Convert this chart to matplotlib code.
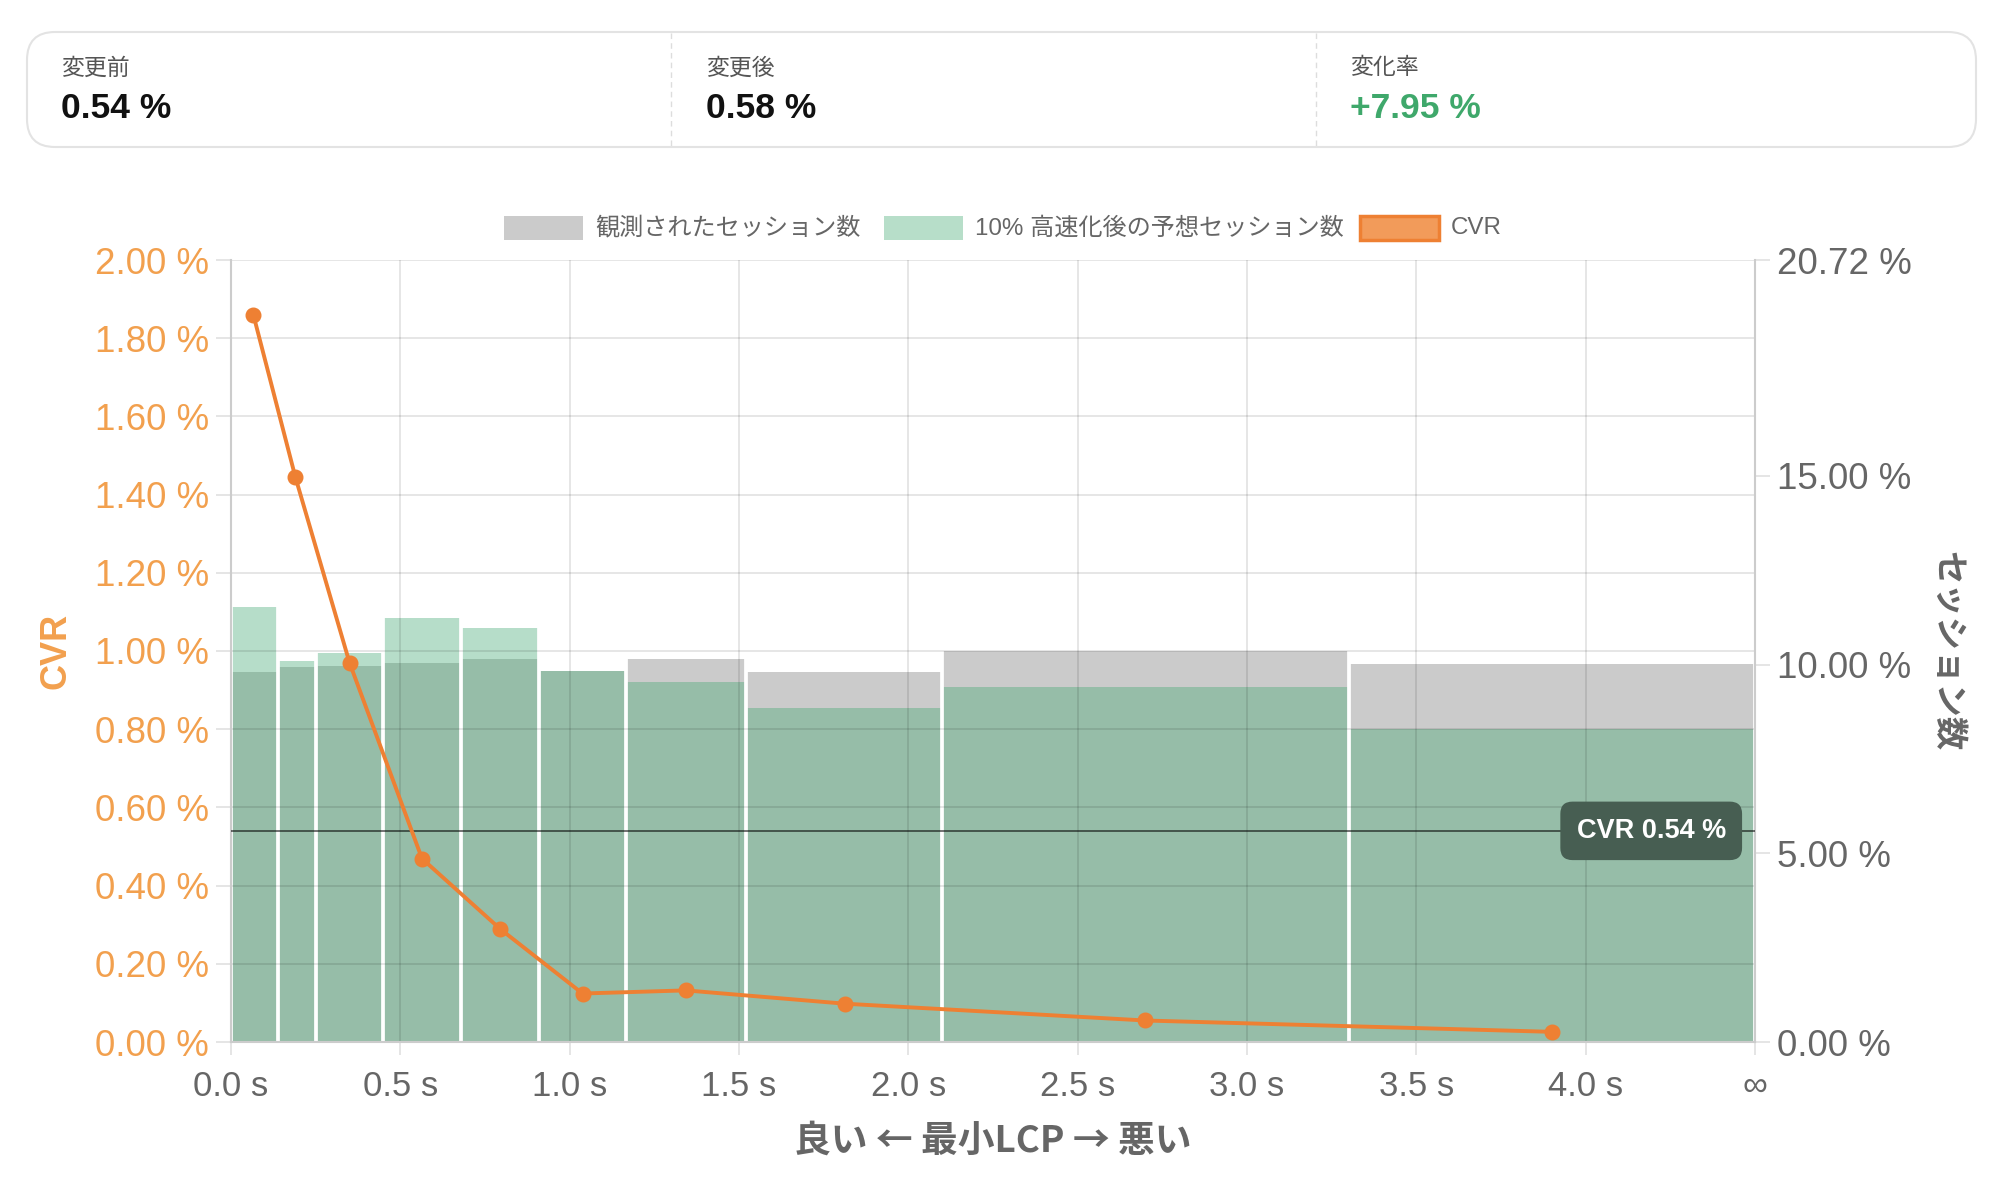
import numpy as np
import matplotlib
matplotlib.use('Agg')
import matplotlib.pyplot as plt
from matplotlib.patches import FancyBboxPatch, Rectangle

plt.rcParams['font.family'] = ['Liberation Sans', 'Noto Sans CJK JP', 'DejaVu Sans']

# summary card
card_titles = ['変更前', '変更後', '変化率']
card_values = ['0.54 %', '0.58 %', '+7.95 %']

# histogram bins of LCP (s) and session share (%)
lcp_edges = [0.0, 0.14, 0.25, 0.45, 0.68, 0.91, 1.165, 1.52, 2.1, 3.3, 4.5]
observed = [9.80, 9.94, 9.96, 10.04, 10.16, 9.84, 10.14, 9.81, 10.36, 10.01]
predicted = [11.53, 10.10, 10.31, 11.24, 10.97, 9.82, 9.54, 8.84, 9.41, 8.30]

# CVR per bin (%)
cvr_x = [0.066, 0.190, 0.350, 0.564, 0.795, 1.038, 1.343, 1.812, 2.699, 3.90]
cvr = [1.860, 1.445, 0.970, 0.469, 0.289, 0.124, 0.132, 0.098, 0.055, 0.026]
cvr_mean = 0.54

xticks = [0.0, 0.5, 1.0, 1.5, 2.0, 2.5, 3.0, 3.5, 4.0, 4.5]
xticklabels = ['0.0 s', '0.5 s', '1.0 s', '1.5 s', '2.0 s', '2.5 s', '3.0 s', '3.5 s', '4.0 s', '∞']
right_ticks = [0, 5, 10, 15, 20.72]
right_max = 20.72

W, H = 2002, 1186
fig = plt.figure(figsize=(W/100, H/100), dpi=100)

def fx(px):
    return px / W

def fy(py):
    return 1 - py / H

orange = '#ee8033'
orange_lt = '#f2a04e'
grey_txt = '#666666'
bar_grey = '#cbcbcb'
bar_green = (65/255, 168/255, 113/255, 0.38)

# ---- card at the top
card = FancyBboxPatch((0.27, (H-147)/100), 19.49, 1.15,
                      boxstyle='round,pad=0,rounding_size=0.28',
                      transform=fig.dpi_scale_trans, fc='white', ec='#e3e3e3', lw=1.5)
fig.patches.append(card)
for sx in [671, 1316]:
    fig.lines.append(plt.Line2D([fx(sx), fx(sx)], [fy(33), fy(146)], transform=fig.transFigure,
                                color='#dddddd', lw=1, ls=(0, (4, 3))))
for i, (t, v) in enumerate(zip(card_titles, card_values)):
    x0 = [61, 706, 1350][i]
    fig.text(fx(x0), fy(68), t, fontsize=16.5, color='#555555', va='center', ha='left')
    fig.text(fx(x0), fy(108), v, fontsize=25.5, fontweight='bold', va='center', ha='left',
             color='#3fa86b' if i == 2 else '#111111')

# ---- legend
leg_y = 228
leg_items = [(504, bar_grey, None, '観測されたセッション数'),
             (884, '#b7dec9', None, '10% 高速化後の予想セッション数'),
             (1360, '#f29b5a', orange, 'CVR')]
for lx, fc, ec, lab in leg_items:
    r = Rectangle((fx(lx), fy(leg_y + 12)), fx(79), 24 / H, transform=fig.transFigure,
                  fc=fc, ec=ec if ec else 'none', lw=2.5 if ec else 0)
    fig.patches.append(r)
    fig.text(fx(lx + 91), fy(leg_y), lab, fontsize=17.4, color=grey_txt, va='center', ha='left')

# ---- main chart
left, right, top, bottom = 231, 1755, 260, 1042
ax = fig.add_axes([fx(left), fy(bottom), fx(right - left), (bottom - top) / H])
ax2 = ax.twinx()
ax.set_zorder(2)
ax.patch.set_visible(False)

lefts = np.array(lcp_edges[:-1])
widths = np.diff(lcp_edges)
ax2.bar(lefts, observed, width=widths, align='edge', color=bar_grey, lw=0, zorder=1)
ax2.bar(lefts, predicted, width=widths, align='edge', color=bar_green, lw=0, zorder=2)
tops = []
for i in range(len(lcp_edges)):
    nb = []
    if i > 0:
        nb += [observed[i-1], predicted[i-1]]
    if i < len(observed):
        nb += [observed[i], predicted[i]]
    tops.append(max(nb))
ax2.vlines(lcp_edges, 0, tops, colors='white', lw=2.7, zorder=3)
ax2.set_ylim(0, right_max)
ax2.set_yticks(right_ticks)
ax2.set_yticklabels([f'{v:.2f} %' for v in right_ticks])
ax2.tick_params(axis='y', labelsize=26.5, labelcolor=grey_txt, color='#e3e3e3',
                length=11, width=1.3, pad=5)
for s in ax2.spines.values():
    s.set_visible(False)
ax2.set_ylabel('セッション数', rotation=270, fontsize=24, fontweight='bold',
               color=grey_txt, labelpad=36)

ax.plot(cvr_x, cvr, color=orange, lw=2.8, marker='o', ms=10.5, zorder=5, clip_on=False)
ax.axhline(cvr_mean, color='black', alpha=0.55, lw=1.4, zorder=4)
ax.annotate(f'CVR {cvr_mean:.2f} %', xy=(4.5, cvr_mean), xytext=(-21, 0),
            textcoords='offset points', ha='right', va='center', color='white',
            fontsize=19.5, fontweight='bold', zorder=6,
            bbox=dict(boxstyle='round,pad=0.6,rounding_size=0.45', fc='#475e52', ec='none'))

ax.set_xlim(0, 4.5)
ax.set_ylim(0, 2.0)
ax.set_yticks(np.arange(0, 2.01, 0.2))
ax.set_yticklabels([f'{v:.2f} %' for v in np.arange(0, 2.01, 0.2)])
ax.set_xticks(xticks)
ax.set_xticklabels(xticklabels)
ax.grid(True, color='black', alpha=0.1, lw=1.4)
ax.set_axisbelow('line')
ax.tick_params(axis='y', labelsize=26.5, labelcolor=orange_lt, color='#e3e3e3',
               length=11, width=1.3, pad=5)
ax.tick_params(axis='x', labelsize=25, labelcolor=grey_txt, color='#e3e3e3',
               length=9, width=1.3, pad=11)
ax.spines['top'].set_visible(False)
for sn in ['left', 'right', 'bottom']:
    ax.spines[sn].set_color('#cccccc')
    ax.spines[sn].set_linewidth(1.5)
ax.set_ylabel('CVR', fontsize=26, fontweight='bold', color=orange_lt, labelpad=15)
ax.set_xlabel('良い ← 最小LCP → 悪い', fontsize=26.5, fontweight='bold', color=grey_txt,
              labelpad=14, family=['Noto Sans CJK JP', 'DejaVu Sans'])

fig.savefig('out.png', dpi=100, facecolor='white')
